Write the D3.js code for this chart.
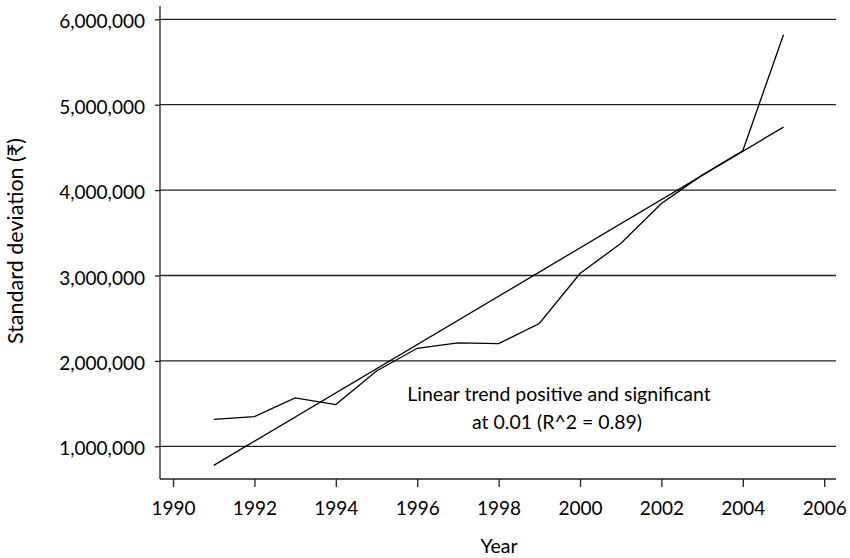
<!DOCTYPE html>
<html>
<head>
<meta charset="utf-8">
<script src="https://cdn.jsdelivr.net/npm/d3@7"></script>
<style>
  body { margin: 0; background: #fff; }
  svg { display: block; }
  text { font-family: Lato, "Noto Sans", sans-serif; fill: #000; }
</style>
</head>
<body>
<svg id="chart" width="850" height="558"></svg>
<script>
const years = [1991, 1992, 1993, 1994, 1995, 1996, 1997, 1998, 1999, 2000, 2001, 2002, 2003, 2004, 2005];
const sdValues = [1316000, 1348000, 1566000, 1489000, 1882000, 2148000, 2210000, 2203000, 2438000, 3023000, 3375000, 3844000, 4175000, 4460000, 5820000];
const trendYears = [1991, 2005];
const trendValues = [777000, 4738000];
const xTicks = [1990, 1992, 1994, 1996, 1998, 2000, 2002, 2004, 2006];
const yTicks = [1000000, 2000000, 3000000, 4000000, 5000000, 6000000];
const annotation = ["Linear trend positive and significant", "at 0.01 (R^2 = 0.89)"];

const svg = d3.select("#chart");
const pLeft = 160, pRight = 836, pTop = 6, pBottom = 479;
const FONT = "Lato, 'Noto Sans', sans-serif";

const x = d3.scaleLinear().domain([1989.68, 2006.29]).range([pLeft, pRight]);
const y = d3.scaleLinear().domain([617000, 6156000]).range([pBottom, pTop]);

// gridlines + y axis
const yAxis = d3.axisLeft(y).tickValues(yTicks).tickFormat(d3.format(",")).tickSize(5).tickPadding(10);
const gy = svg.append("g").attr("transform", `translate(${pLeft},0)`).call(yAxis);
gy.select(".domain").attr("d", `M0,${pTop}V${pBottom}`).attr("stroke", "#222").attr("stroke-width", 1.3);
gy.selectAll(".tick line").attr("stroke", "#222").attr("stroke-width", 1.3);
gy.selectAll(".tick text").attr("font-size", 19).attr("font-family", FONT).attr("fill", "#000").attr("dy", "0.45em");

svg.append("g").selectAll("line").data(yTicks).join("line")
  .attr("x1", pLeft).attr("x2", pRight)
  .attr("y1", d => y(d)).attr("y2", d => y(d))
  .attr("stroke", "#222").attr("stroke-width", 1.3);

// x axis
const xAxis = d3.axisBottom(x).tickValues(xTicks).tickFormat(d3.format("d")).tickSize(8).tickPadding(15);
const gx = svg.append("g").attr("transform", `translate(0,${pBottom})`).call(xAxis);
gx.select(".domain").attr("d", `M${pLeft},0H${pRight}`).attr("stroke", "#222").attr("stroke-width", 1.3);
gx.selectAll(".tick line").attr("stroke", "#222").attr("stroke-width", 1.3);
gx.selectAll(".tick text").attr("font-size", 19).attr("font-family", FONT).attr("fill", "#000");

// series
const line = d3.line().x(d => x(d[0])).y(d => y(d[1]));
svg.append("path").datum(years.map((yr, i) => [yr, sdValues[i]]))
  .attr("d", line).attr("fill", "none").attr("stroke", "#000").attr("stroke-width", 1.3);
svg.append("path").datum(trendYears.map((yr, i) => [yr, trendValues[i]]))
  .attr("d", line).attr("fill", "none").attr("stroke", "#000").attr("stroke-width", 1.3);

// annotation
svg.append("text").attr("x", 559).attr("y", 401).attr("text-anchor", "middle").attr("font-size", 19.5).text(annotation[0]);
svg.append("text").attr("x", 557).attr("y", 429).attr("text-anchor", "middle").attr("font-size", 19.5).text(annotation[1]);

// axis titles
svg.append("text").attr("x", 499).attr("y", 553).attr("text-anchor", "middle").attr("font-size", 19.5).text("Year");
svg.append("text").attr("transform", "translate(23,241) rotate(-90)").attr("text-anchor", "middle").attr("font-size", 21.5).text("Standard deviation (₹)");
</script>
</body>
</html>
